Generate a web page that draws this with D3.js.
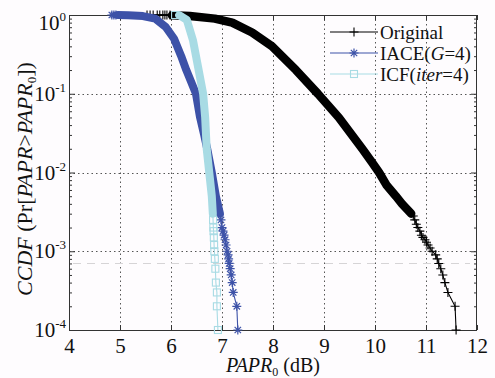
<!DOCTYPE html>
<html><head><meta charset="utf-8">
<script src="https://cdn.jsdelivr.net/npm/d3@7"></script>
<style>
html,body{margin:0;padding:0;background:#fefcfe;}
svg{display:block;font-family:"Liberation Serif","Times New Roman",serif;}
</style></head>
<body>
<svg id="chart" width="495" height="378"></svg>
<script>
// ---------- data ----------
const xTickValues = [4,5,6,7,8,9,10,11,12];
const yTickValues = [1,1e-1,1e-2,1e-3,1e-4];
const yTickExponents = ["0","-1","-2","-3","-4"];
const seriesNames = ["Original","IACE","ICF"];

// Original (no reduction)
const origTopDb  = [5.53,5.59,5.65,5.73,5.78,5.84,5.88,5.92,5.98];
const origTopP   = [1,1,1,1,1,1,1,1,0.998];
const origBandDb = [6.02,6.37,6.86,7.20,7.59,7.98,8.45,8.88,9.29,9.75,9.94,10.08,10.22,10.41,10.53,10.71];
const origBandP  = [0.99,0.97,0.90,0.80,0.60,0.40,0.20,0.10,0.05,0.02,0.0135,0.01,0.007,0.005,0.004,0.003];
const origTailDb = [10.75,10.78,10.81,10.84,10.88,10.91,10.94,10.98,11.01,11.04,11.08,11.12,11.19,11.22,11.25,11.29,11.33,11.37,11.43,11.57,11.59];
const origTailP  = [0.0028,0.0025,0.0022,0.002,0.0018,0.0016,0.0015,0.0014,0.0013,0.0012,0.0011,0.001,0.0009,0.0008,0.0007,0.0006,0.0005,0.0004,0.0003,0.0002,0.0001];

// IACE (G=4)
const iaceTopDb  = [4.84,4.88,4.92];
const iaceTopP   = [1,1,1];
const iaceBandDb = [4.96,5.16,5.45,5.69,5.90,6.06,6.20,6.30,6.49,6.57,6.65,6.71,6.80,6.88,6.96];
const iaceBandP  = [0.999,0.995,0.97,0.90,0.70,0.50,0.30,0.20,0.10,0.05,0.03,0.02,0.01,0.005,0.003];
const iaceTailDb = [6.98,7.00,7.02,7.04,7.06,7.08,7.10,7.12,7.13,7.14,7.16,7.18,7.20,7.22,7.29,7.31];
const iaceTailP  = [0.0025,0.002,0.0018,0.0016,0.0014,0.0012,0.001,0.0009,0.0008,0.0007,0.0006,0.0005,0.0004,0.0003,0.0002,0.0001];

// ICF (iter=4)
const icfTopDb  = [6.08];
const icfTopP   = [1];
const icfBandDb = [6.16,6.31,6.43,6.53,6.63,6.67,6.70,6.75,6.80,6.82];
const icfBandP  = [0.995,0.865,0.48,0.22,0.10,0.05,0.02,0.01,0.005,0.003];
const icfTailDb = [6.825,6.83,6.835,6.84,6.845,6.85,6.86,6.87,6.88,6.90,6.90,6.92];
const icfTailP  = [0.0025,0.002,0.0018,0.0015,0.0012,0.001,0.0008,0.0006,0.0004,0.0003,0.0002,0.0001];

// ---------- layout ----------
const FONT = "'Liberation Serif','Times New Roman',serif";
const svg = d3.select("#chart");
const L = 69, R = 477, T = 15, B = 330;
const x = d3.scaleLinear().domain([4,12]).range([L,R]);
const y = d3.scaleLog().domain([1e-4,1]).range([B,T]);
const axisColor = "#333";

// grid
const grid = svg.append("g").attr("stroke","#555").attr("stroke-width",1).attr("stroke-dasharray","1.5,3");
grid.selectAll(".gx").data(xTickValues.slice(1,-1)).join("line")
  .attr("x1",d=>Math.round(x(d))+0.5).attr("x2",d=>Math.round(x(d))+0.5).attr("y1",T).attr("y2",B);
grid.selectAll(".gy").data(yTickValues.slice(1,-1)).join("line")
  .attr("x1",L).attr("x2",R).attr("y1",d=>Math.round(y(d))+0.5).attr("y2",d=>Math.round(y(d))+0.5);

// faint scan artefact line
svg.append("line").attr("x1",73).attr("x2",470).attr("y1",263.5).attr("y2",263.5)
  .attr("stroke","#d6d4d6").attr("stroke-width",1.2).attr("stroke-dasharray","8,6");

// axes
function styleAxis(g){ g.attr("font-family",FONT); g.select(".domain").remove(); g.selectAll("line").attr("stroke",axisColor); }
const minorVals = [];
[1e-4,1e-3,1e-2,1e-1].forEach(b=>{ for(let k=2;k<=9;k++) minorVals.push(b*k); });

svg.append("g").attr("transform",`translate(0,${B})`)
  .call(d3.axisBottom(x).tickValues(xTickValues).tickSizeInner(-5).tickSizeOuter(0).tickPadding(8).tickFormat(d3.format("d")))
  .call(styleAxis)
  .call(g=>g.attr("font-size",21).selectAll("text").attr("fill","#111"));
svg.append("g").attr("transform",`translate(0,${T})`)
  .call(d3.axisTop(x).tickValues(xTickValues).tickSizeInner(-5).tickSizeOuter(0).tickFormat(""))
  .call(styleAxis);
svg.append("g").attr("transform",`translate(${L},0)`)
  .call(d3.axisLeft(y).tickValues(yTickValues).tickSizeInner(-6).tickSizeOuter(0).tickFormat(""))
  .call(styleAxis);
svg.append("g").attr("transform",`translate(${R},0)`)
  .call(d3.axisRight(y).tickValues(yTickValues).tickSizeInner(-6).tickSizeOuter(0).tickFormat(""))
  .call(styleAxis);
svg.append("g").attr("transform",`translate(${L},0)`)
  .call(d3.axisLeft(y).tickValues(minorVals).tickSizeInner(-3).tickSizeOuter(0).tickFormat(""))
  .call(styleAxis);
svg.append("g").attr("transform",`translate(${R},0)`)
  .call(d3.axisRight(y).tickValues(minorVals).tickSizeInner(-3).tickSizeOuter(0).tickFormat(""))
  .call(styleAxis);

// y tick labels with superscripts
const yl = svg.append("g").attr("font-size",21).attr("fill","#111").attr("font-family",FONT);
yTickValues.forEach((v,i)=>{
  const by = Math.max(y(v)+7, 30);
  const t = yl.append("text").attr("x",66).attr("y",by).attr("text-anchor","end");
  t.append("tspan").text("10");
  t.append("tspan").attr("font-size",13).attr("dy",-9).text(yTickExponents[i]);
});

// box
svg.append("rect").attr("x",L+0.5).attr("y",T+0.5).attr("width",R-L-1).attr("height",B-T)
  .attr("fill","none").attr("stroke",axisColor).attr("stroke-width",1);

// ---------- series ----------
const line = d3.line().x(d=>x(d[0])).y(d=>y(d[1]));
const zip = (a,b)=>a.map((v,i)=>[v,b[i]]);

const symPlus = (g,cx,cy,c)=>{ g.append("path").attr("d",`M${cx-4.5},${cy}H${cx+4.5}M${cx},${cy-4.5}V${cy+4.5}`).attr("stroke",c).attr("stroke-width",1.1).attr("fill","none"); };
const symStar = (g,cx,cy,c)=>{ const a=4.5,b=3.2; g.append("path").attr("d",`M${cx-a},${cy}H${cx+a}M${cx},${cy-a}V${cy+a}M${cx-b},${cy-b}L${cx+b},${cy+b}M${cx-b},${cy+b}L${cx+b},${cy-b}`).attr("stroke",c).attr("stroke-width",1.2).attr("fill","none"); };
const symSquare = (g,cx,cy,c)=>{ g.append("rect").attr("x",cx-3.5).attr("y",cy-3.5).attr("width",7).attr("height",7).attr("stroke",c).attr("stroke-width",1.1).attr("fill","none"); };

const series = [
  {name:"Original", color:"#000000", top:zip(origTopDb,origTopP), band:zip(origBandDb,origBandP), tail:zip(origTailDb,origTailP), sym:symPlus, bw:8.5},
  {name:"IACE", color:"#3d52a8", top:zip(iaceTopDb,iaceTopP), band:zip(iaceBandDb,iaceBandP), tail:zip(iaceTailDb,iaceTailP), sym:symStar, bw:8},
  {name:"ICF", color:"#a8dbe4", top:zip(icfTopDb,icfTopP), band:zip(icfBandDb,icfBandP), tail:zip(icfTailDb,icfTailP), sym:symSquare, bw:8}
];

series.forEach(s=>{
  const g = svg.append("g");
  const all = s.top.concat(s.band, s.tail);
  g.append("path").attr("d",line(all)).attr("fill","none").attr("stroke",s.color).attr("stroke-width",1.1);
  g.append("path").attr("d",line(s.band)).attr("fill","none").attr("stroke",s.color)
    .attr("stroke-width",s.bw).attr("stroke-linecap","round").attr("stroke-linejoin","round");
  s.top.concat(s.tail).forEach(d=>s.sym(g,x(d[0]),y(d[1]),s.color));
});

// ---------- legend ----------
const legendRows = [
  {label:[["Original",""]], y:32},
  {label:[["IACE(",""],["G","i"],["=4)",""]], y:53},
  {label:[["ICF(",""],["iter","i"],["=4)",""]], y:74}
];
legendRows.forEach((r,i)=>{
  const s = series[i];
  svg.append("line").attr("x1",330).attr("x2",378).attr("y1",r.y).attr("y2",r.y).attr("stroke",s.color).attr("stroke-width",1.2);
  s.sym(svg,354,r.y,s.color);
  const t = svg.append("text").attr("x",380).attr("y",r.y+6.5).attr("font-size",19).attr("fill","#111").attr("font-family",FONT);
  r.label.forEach(p=>t.append("tspan").attr("font-style",p[1]==="i"?"italic":"normal").text(p[0]));
});

// ---------- axis titles ----------
const xt = svg.append("text").attr("x",273).attr("y",372).attr("text-anchor","middle").attr("font-size",20).attr("fill","#111").attr("font-family",FONT);
xt.append("tspan").attr("font-style","italic").text("PAPR");
xt.append("tspan").attr("font-size",12).attr("dy",4).text("0");
xt.append("tspan").attr("dy",-4).text(" (dB)");

const ytx = svg.append("text").attr("transform","translate(32,179) rotate(-90)").attr("text-anchor","middle").attr("font-size",22).attr("fill","#111").attr("font-family",FONT);
ytx.append("tspan").attr("font-style","italic").text("CCDF");
ytx.append("tspan").text(" (Pr[");
ytx.append("tspan").attr("font-style","italic").text("PAPR");
ytx.append("tspan").text(">");
ytx.append("tspan").attr("font-style","italic").text("PAPR");
ytx.append("tspan").attr("font-size",13).attr("dy",4).text("0");
ytx.append("tspan").attr("dy",-4).text("])");
</script>
</body></html>
